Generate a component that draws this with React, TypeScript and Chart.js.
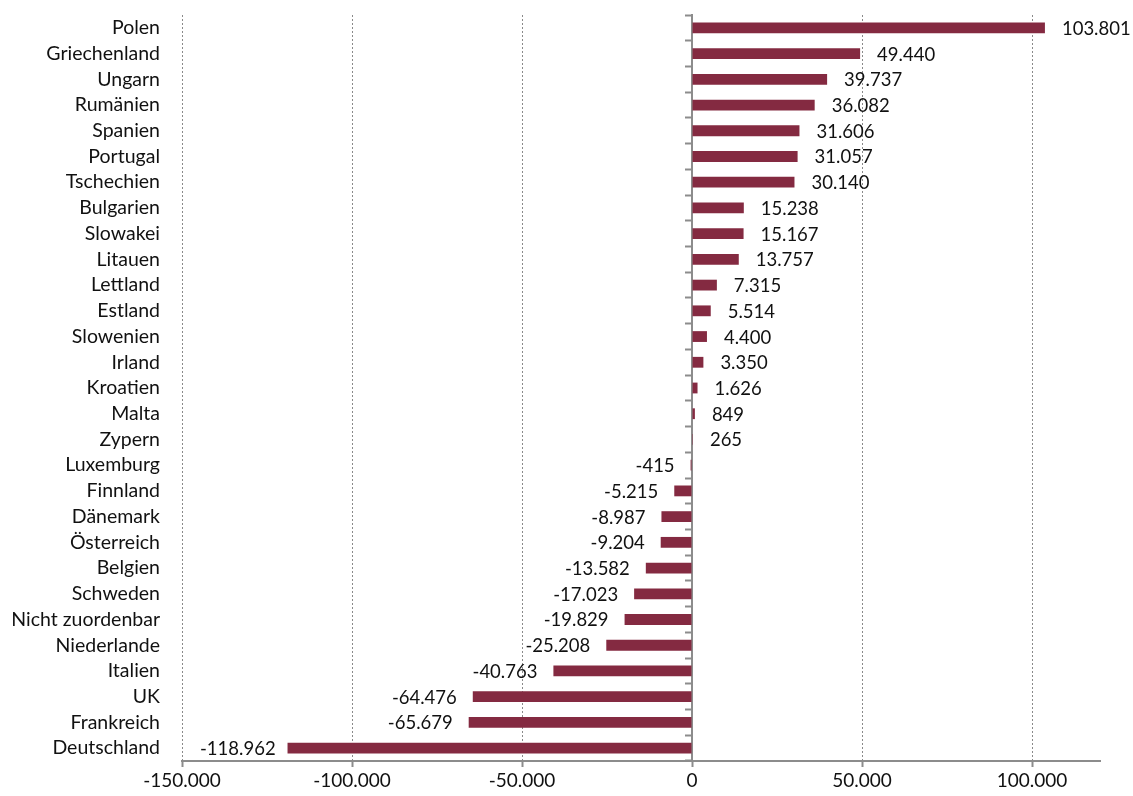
import React, { useEffect, useRef } from "react";
import { Chart, registerables } from "chart.js";

Chart.register(...registerables);

const categories = [
  "Polen", "Griechenland", "Ungarn", "Rumänien", "Spanien", "Portugal", "Tschechien",
  "Bulgarien", "Slowakei", "Litauen", "Lettland", "Estland", "Slowenien", "Irland",
  "Kroatien", "Malta", "Zypern", "Luxemburg", "Finnland", "Dänemark", "Österreich",
  "Belgien", "Schweden", "Nicht zuordenbar", "Niederlande", "Italien", "UK",
  "Frankreich", "Deutschland",
];

const values = [
  103801, 49440, 39737, 36082, 31606, 31057, 30140,
  15238, 15167, 13757, 7315, 5514, 4400, 3350,
  1626, 849, 265, -415, -5215, -8987, -9204,
  -13582, -17023, -19829, -25208, -40763, -64476,
  -65679, -118962,
];

const xTickValues = [-150000, -100000, -50000, 0, 50000, 100000];
const xMin = -150000;
const xMax = 120000;

const FONT = "Lato, 'Open Sans', sans-serif";
const BAR_COLOR = "#842A41";
const AXIS_COLOR = "#8C8C8C";

function fmt(v: number): string {
  const sign = v < 0 ? "-" : "";
  const s = Math.abs(Math.round(v)).toString();
  return sign + s.replace(/\B(?=(\d{3})+(?!\d))/g, ".");
}

const valueLabels = {
  id: "valueLabels",
  afterDatasetsDraw(chart: any) {
    const ctx = chart.ctx as CanvasRenderingContext2D;
    const meta = chart.getDatasetMeta(0);
    ctx.save();
    ctx.font = `18.5px ${FONT}`;
    ctx.fillStyle = "#111";
    ctx.textBaseline = "middle";
    meta.data.forEach((bar: any, i: number) => {
      const v = values[i];
      const txt = fmt(v);
      const { x, y } = bar.getProps(["x", "y"], true);
      if (v >= 0) {
        ctx.textAlign = "left";
        ctx.fillText(txt, x + 17, y + 1);
      } else {
        const w = ctx.measureText(txt).width;
        let right = x - 16;
        right = Math.max(right, chart.chartArea.left + 18 + w);
        ctx.textAlign = "right";
        ctx.fillText(txt, right, y + 1);
      }
    });
    ctx.restore();
  },
};

const zeroPad = (scale: any) => {
  scale.paddingTop = 0;
  scale.paddingBottom = 0;
  scale.paddingLeft = 0;
  scale.paddingRight = 0;
};

export default function App() {
  const ref = useRef<HTMLCanvasElement | null>(null);

  useEffect(() => {
    if (!ref.current) return;
    const chart = new Chart(ref.current, {
      type: "bar",
      data: {
        labels: categories,
        datasets: [
          {
            data: values,
            backgroundColor: BAR_COLOR,
            borderWidth: 0,
            barPercentage: 0.42,
            categoryPercentage: 1,
          },
        ],
      },
      options: {
        indexAxis: "y",
        responsive: false,
        animation: false,
        devicePixelRatio: 1,
        layout: { padding: { top: 15, right: 33, bottom: 0, left: 0 } },
        plugins: {
          legend: { display: false },
          tooltip: { enabled: false },
        },
        scales: {
          x: {
            type: "linear",
            min: xMin,
            max: xMax,
            afterBuildTicks: (scale: any) => {
              scale.ticks = xTickValues.map((v) => ({ value: v }));
            },
            afterFit: (scale: any) => {
              scale.height = 35;
              zeroPad(scale);
            },
            grid: {
              color: (c: any) => (c.tick && c.tick.value === 0 ? "rgba(0,0,0,0)" : "#8A8A8A"),
              lineWidth: 1,
              drawTicks: true,
              tickLength: 6,
              tickColor: AXIS_COLOR,
              tickWidth: 2,
            },
            border: { display: true, color: AXIS_COLOR, width: 2, dash: [2, 2] },
            ticks: {
              font: { family: FONT, size: 19 },
              color: "#111",
              padding: 2,
              callback: (v: any) => fmt(Number(v)),
            },
          },
          y: {
            type: "category",
            position: "left",
            afterFit: (scale: any) => {
              scale.width = 182;
              zeroPad(scale);
            },
            grid: { display: false, drawTicks: false },
            border: { display: false },
            ticks: {
              font: { family: FONT, size: 19.5 },
              color: "#111",
              padding: 22,
              autoSkip: false,
            },
          },
          y2: {
            type: "category",
            labels: categories,
            position: { x: 0 } as any,
            offset: true,
            afterFit: zeroPad,
            grid: {
              offset: true,
              drawOnChartArea: false,
              drawTicks: true,
              tickLength: 6,
              color: AXIS_COLOR,
              tickColor: AXIS_COLOR,
              tickWidth: 2,
            },
            border: { display: true, color: AXIS_COLOR, width: 2 },
            ticks: { display: false, autoSkip: false },
          },
        },
      },
      plugins: [valueLabels],
    });
    return () => chart.destroy();
  }, []);

  return (
    <div style={{ position: "absolute", left: 0, top: 0, width: 1133, height: 796, background: "#fff" }}>
      <canvas ref={ref} width={1133} height={796} />
    </div>
  );
}
